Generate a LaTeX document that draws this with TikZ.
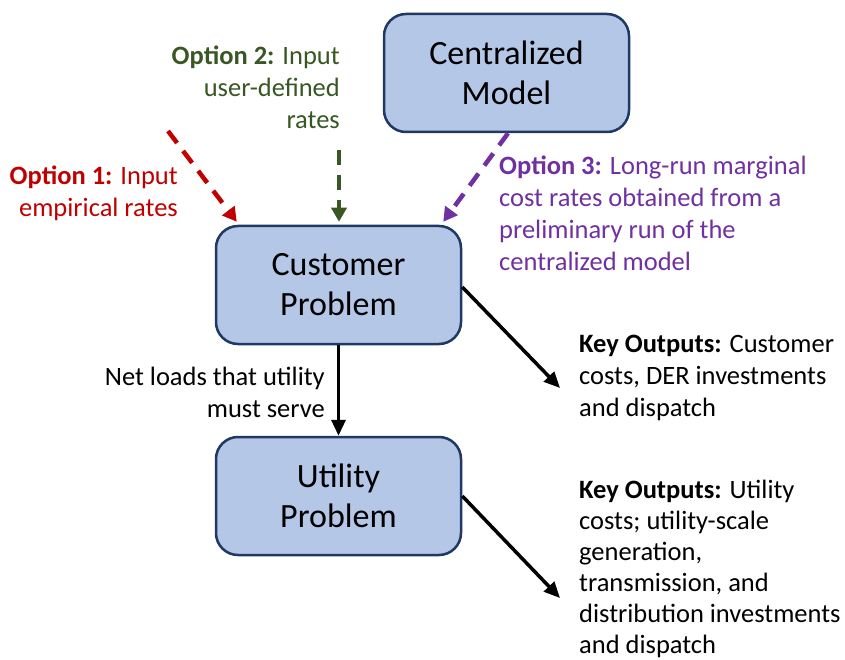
\documentclass[tikz,border=0pt]{standalone}
\usepackage{fontspec}
\setmainfont{Carlito}
\usetikzlibrary{arrows.meta,calc}
\definecolor{optred}{HTML}{C00000}
\definecolor{optgreen}{HTML}{385723}
\definecolor{optpurple}{HTML}{7030A0}
\definecolor{boxfill}{HTML}{B4C7E7}
\definecolor{boxline}{HTML}{1F3864}
\newcommand{\smalltxt}{\fontsize{26.5}{32}\selectfont}
\newcommand{\tighttxt}{\fontsize{26.5}{31}\selectfont}
\newcommand{\boxtxt}{\fontsize{34}{40}\selectfont}
\begin{document}
\begin{tikzpicture}[x=1pt,y=-1pt,
  model/.style={draw=boxline, line width=2.5pt, fill=boxfill, rounded corners=22pt,
    minimum width=245pt, minimum height=118pt, align=center, font=\boxtxt, inner sep=0pt},
  lbl/.style={inner sep=0pt, font=\smalltxt},
  dasharrow/.style={line width=4.5pt, dash pattern=on 15pt off 10pt,
    -{Triangle[length=14pt,width=15pt]}},
  outarrow/.style={line width=3.5pt, -{Triangle[length=16pt,width=14pt]}},
]
\useasboundingbox (0,0) rectangle (845,660);
\node[model] (cent) at (506.5,73) {Centralized\\Model};
\node[model] (cust) at (338.5,285) {Customer\\Problem};
\node[model] (util) at (338.5,496) {Utility\\Problem};

\node[lbl, anchor=base east, text=optred] (opt1) at (178,185)
  {\begin{tabular}[t]{@{}r@{}}\textbf{Option 1:} Input\\empirical rates\end{tabular}};
\node[lbl, anchor=base east, text=optgreen] (opt2) at (340,65)
  {\begin{tabular}[t]{@{}r@{}}\textbf{Option 2:} Input\\user-defined\\rates\end{tabular}};
\node[lbl, anchor=base west, text=optpurple] (opt3) at (499,175)
  {\begin{tabular}[t]{@{}l@{}}\textbf{Option 3:} Long-run marginal\\cost rates obtained from a\\preliminary run of the\\centralized model\end{tabular}};
\node[lbl, anchor=base east] (net) at (325,385)
  {\begin{tabular}[t]{@{}r@{}}Net loads that utility\\must serve\end{tabular}};
\node[lbl, anchor=base west] (key1) at (579,352)
  {\begin{tabular}[t]{@{}l@{}}\textbf{Key Outputs:} Customer\\costs, DER investments\\and dispatch\end{tabular}};
\node[lbl, anchor=base west, font=\tighttxt] (key2) at (579,498)
  {\begin{tabular}[t]{@{}l@{}}\textbf{Key Outputs:} Utility\\costs; utility-scale\\generation,\\transmission, and\\distribution investments\\and dispatch\end{tabular}};

\coordinate (r0) at (168,131);
\coordinate (g0) at (339,150);
\coordinate (k1) at (560,388);
\coordinate (k2) at (560,598);

\draw[dasharrow, optred] (r0) -- ([shift={(22,-3)}]cust.north west);
\draw[dasharrow, optgreen] (g0) -- ([shift={(0.5,-3)}]cust.north);
\draw[dasharrow, optpurple] ([xshift=1.5pt]cent.south) -- ([shift={(-19,-3)}]cust.north east);
\draw[outarrow] (cust.south) -- (util.north);
\draw[outarrow] ([yshift=-2pt]cust.east) -- (k1);
\draw[outarrow] (util.east) -- (k2);
\end{tikzpicture}
\end{document}
